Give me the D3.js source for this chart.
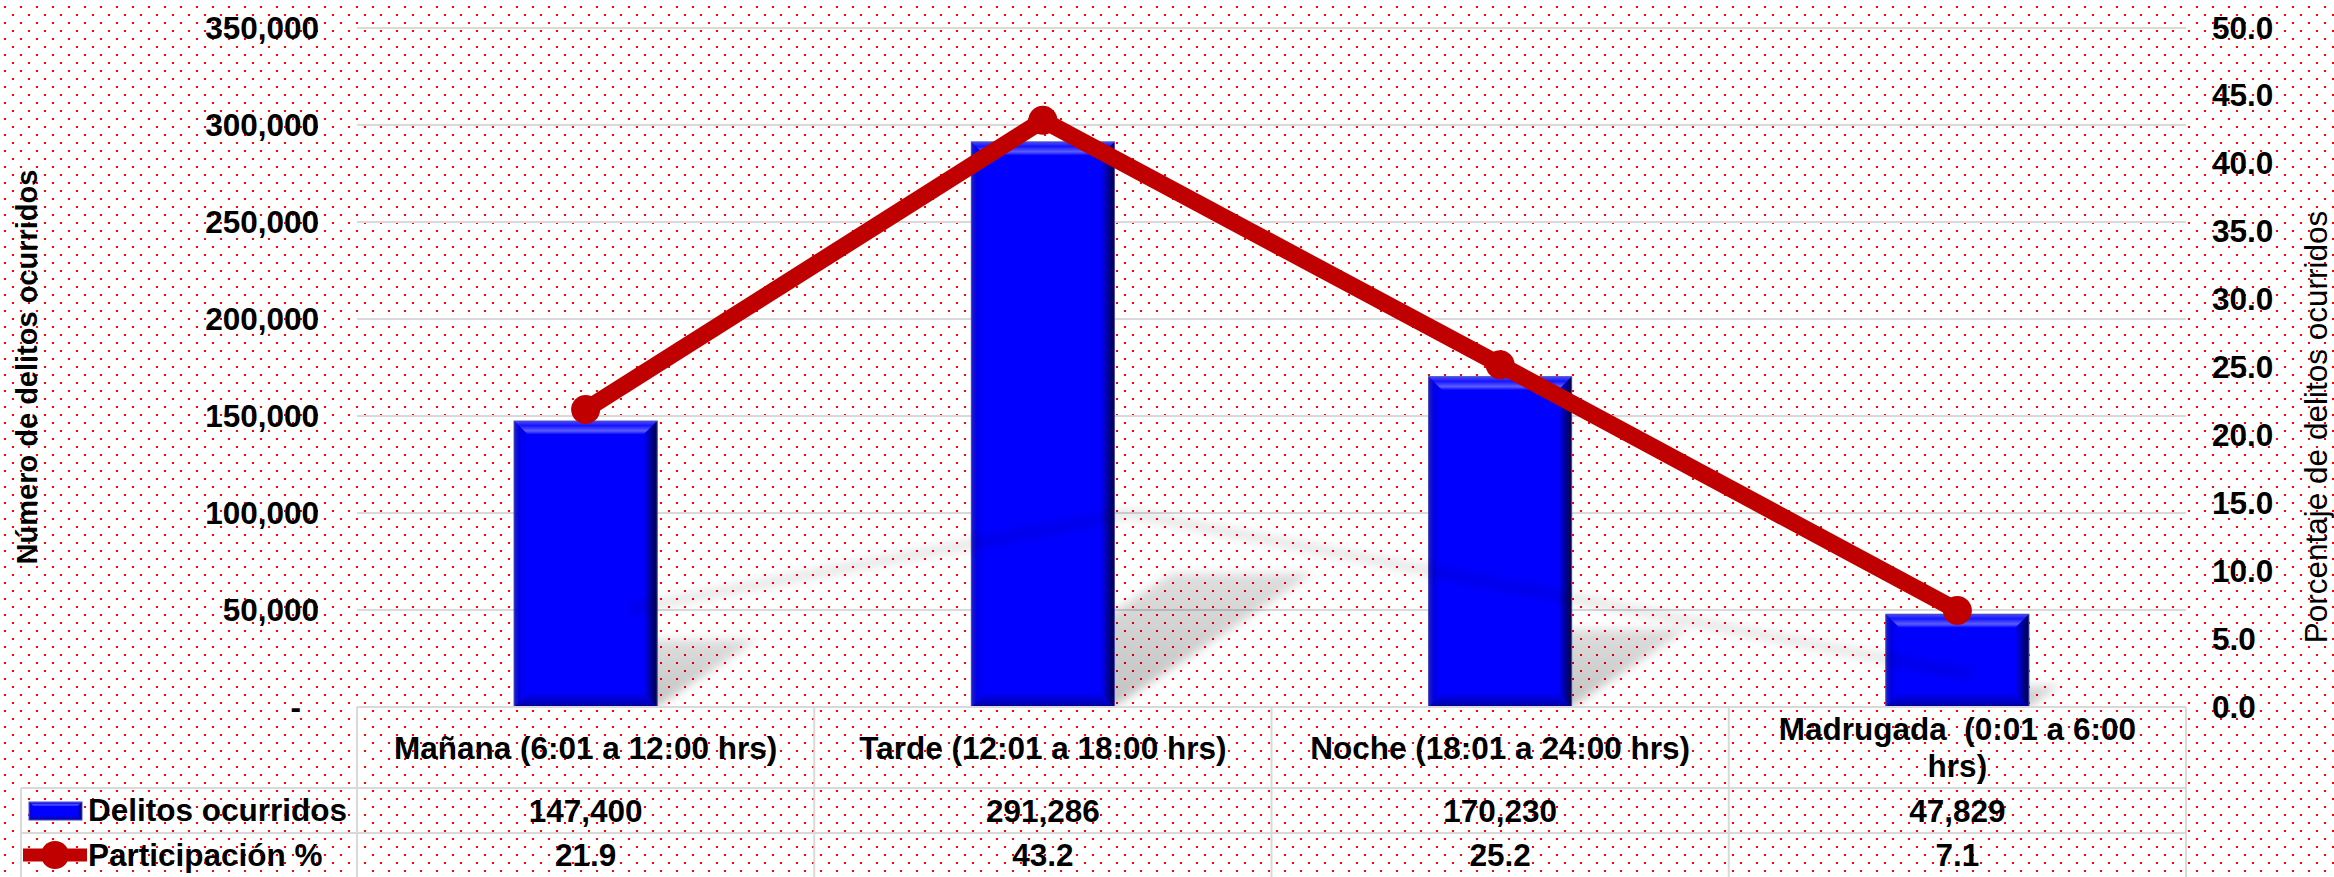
<!DOCTYPE html>
<html>
<head>
<meta charset="utf-8">
<title>Delitos ocurridos por horario</title>
<script src="https://cdn.jsdelivr.net/npm/d3@7"></script>
<style>
  body { margin: 0; background: #fff; overflow: hidden; }
  svg { display: block; font-family: "Liberation Sans", Arial, sans-serif; }
  text { white-space: pre; }
</style>
</head>
<body>
<svg id="chart" width="2334" height="877"></svg>
<script>
// data
var categories = ["Mañana (6:01 a 12:00 hrs)", "Tarde (12:01 a 18:00 hrs)",
                  "Noche (18:01 a 24:00 hrs)", "Madrugada  (0:01 a 6:00 hrs)"];
var delitos = [147400, 291286, 170230, 47829];
var participacion = [21.9, 43.2, 25.2, 7.1];
var seriesNames = ["Delitos ocurridos", "Participación %"];
var leftTicks = [0, 50000, 100000, 150000, 200000, 250000, 300000, 350000];
var rightTicks = [0, 5, 10, 15, 20, 25, 30, 35, 40, 45, 50];
var leftTitle = "Número de delitos ocurridos";
var rightTitle = "Porcentaje de delitos ocurridos";

var W = 2334, H = 877;
var plotL = 357, plotR = 2186, plotT = 28, base = 707;
var rowA = 788, rowB = 833;
var grid = "#d9d9d9", lineRed = "#c00000";
var fs = 31.5;

var svg = d3.select("#chart");
var defs = svg.append("defs");

// red dotted background
var pat = defs.append("pattern").attr("id", "dots")
    .attr("patternUnits", "userSpaceOnUse").attr("width", 16).attr("height", 16);
pat.append("rect").attr("x", 4).attr("y", 6).attr("width", 2).attr("height", 2).attr("fill", "#ff0000");
pat.append("rect").attr("x", 12).attr("y", 14).attr("width", 2).attr("height", 2).attr("fill", "#ff0000");
svg.append("rect").attr("width", W).attr("height", H).attr("fill", "#fff");
svg.append("rect").attr("width", W).attr("height", H).attr("fill", "url(#dots)");

// gradients for the bevelled bars
function grad(id, x2, y2, stops) {
  var g = defs.append("linearGradient").attr("id", id)
      .attr("x1", 0).attr("y1", 0).attr("x2", x2).attr("y2", y2);
  stops.forEach(function(s) {
    g.append("stop").attr("offset", s[0]).attr("stop-color", s[1])
     .attr("stop-opacity", s[2] === undefined ? 1 : s[2]);
  });
}
grad("bvTop", 0, 1, [[0, "#4a4aff"], [0.35, "#1414ff"], [0.75, "#5c5cff"], [1, "#1010ff"]]);
grad("bvBot", 0, 1, [[0, "#0000f0"], [0.6, "#0000c8"], [1, "#00008a"]]);
grad("bvRight", 1, 0, [[0, "#0000f5"], [0.5, "#0000a0"], [1, "#000040"]]);
grad("bvLeft", 1, 0, [[0, "#2020c0"], [0.4, "#0000e6"], [1, "#0000ff"]]);
grad("shadowGrad", 0, 1, [[0, "#000", 0.13], [1, "#000", 0.24]]);

defs.append("filter").attr("id", "blur").attr("x", "-20%").attr("y", "-20%")
    .attr("width", "140%").attr("height", "140%")
  .append("feGaussianBlur").attr("stdDeviation", 5);
defs.append("filter").attr("id", "blur2").attr("x", "-10%").attr("y", "-50%")
    .attr("width", "120%").attr("height", "200%")
  .append("feGaussianBlur").attr("stdDeviation", 5);
defs.append("clipPath").attr("id", "plotClip")
  .append("rect").attr("x", plotL).attr("y", 0).attr("width", plotR - plotL).attr("height", base);

// scales
var x = d3.scaleBand().domain(categories).range([plotL, plotR]).padding(0);
var y = d3.scaleLinear().domain([0, 350000]).range([base, plotT]);
var yR = d3.scaleLinear().domain([0, 50]).range([base, plotT]);
var barW = x.bandwidth() * 0.313;
function cx(c) { return x(c) + x.bandwidth() / 2; }

// gridlines
svg.append("g").selectAll("line")
  .data(leftTicks.filter(function(d) { return d > 0; }))
  .enter().append("line")
    .attr("x1", plotL).attr("x2", plotR)
    .attr("y1", function(d) { return y(d); }).attr("y2", function(d) { return y(d); })
    .attr("stroke", grid).attr("stroke-width", 2);

// left axis
var fmtLeft = d3.format(",");
var axL = svg.append("g").attr("transform", "translate(325,0)")
  .call(d3.axisLeft(y).tickValues(leftTicks).tickSize(0).tickPadding(6)
    .tickFormat(function(d) { return d === 0 ? "-" : fmtLeft(d); }));
axL.select(".domain").remove();
axL.selectAll("text").attr("font-size", fs).attr("font-weight", "bold")
   .attr("font-family", "Liberation Sans, Arial, sans-serif").attr("fill", "#000")
   .attr("dx", function(d) { return d === 0 ? -18 : 0; });

// right axis
var axR = svg.append("g").attr("transform", "translate(2206,0)")
  .call(d3.axisRight(yR).tickValues(rightTicks).tickSize(0).tickPadding(6)
    .tickFormat(d3.format(".1f")));
axR.select(".domain").remove();
axR.selectAll("text").attr("font-size", fs).attr("font-weight", "bold")
   .attr("font-family", "Liberation Sans, Arial, sans-serif").attr("fill", "#000");

// axis titles
svg.append("text").attr("transform", "translate(37,367) rotate(-90)")
  .attr("text-anchor", "middle").attr("font-size", 29).attr("font-weight", "bold")
  .text(leftTitle);
svg.append("text").attr("transform", "translate(2327,427) rotate(-90)")
  .attr("text-anchor", "middle").attr("font-size", 31.5)
  .text(rightTitle);

// perspective shadows of the bars
var kS = 0.237, aS = 0.354;
svg.append("g").attr("clip-path", "url(#plotClip)")
  .selectAll("polygon").data(categories).enter().append("polygon")
    .attr("points", function(c, i) {
      var x0 = cx(c) - barW / 2, x1 = x0 + barW, h = base - y(delitos[i]);
      return [[x0, base], [x1, base], [x1 + aS * h, base - kS * h], [x0 + aS * h, base - kS * h]].join(" ");
    })
    .attr("fill", "url(#shadowGrad)")
    .attr("filter", "url(#blur)");

// bars with bevel
function bevelBar(g, bx, by, bw, bh, b) {
  g.append("rect").attr("x", bx).attr("y", by).attr("width", bw).attr("height", bh).attr("fill", "#0000ff");
  var pts = {
    bvTop: [[bx, by], [bx + bw, by], [bx + bw - b, by + b], [bx + b, by + b]],
    bvBot: [[bx, by + bh], [bx + bw, by + bh], [bx + bw - b, by + bh - b], [bx + b, by + bh - b]],
    bvLeft: [[bx, by], [bx + b, by + b], [bx + b, by + bh - b], [bx, by + bh]],
    bvRight: [[bx + bw, by], [bx + bw - b, by + b], [bx + bw - b, by + bh - b], [bx + bw, by + bh]]
  };
  Object.keys(pts).forEach(function(k) {
    g.append("polygon").attr("points", pts[k].join(" ")).attr("fill", "url(#" + k + ")");
  });
  g.append("rect").attr("x", bx).attr("y", by).attr("width", bw).attr("height", bh)
    .attr("fill", "none").attr("stroke", "#4b4bb8").attr("stroke-width", 1);
}
var bars = svg.append("g");
categories.forEach(function(c, i) {
  bevelBar(bars.append("g"), cx(c) - barW / 2, y(delitos[i]), barW, base - y(delitos[i]), 13);
});

// faint floor shadow of the line
var kL = 0.33, aL = 0.15;
var shadowLine = d3.line()
  .x(function(d, i) { return cx(categories[i]) + aL * (base - yR(d)); })
  .y(function(d) { return base - kL * (base - yR(d)); });
svg.append("path").datum(participacion).attr("d", shadowLine)
  .attr("fill", "none").attr("stroke", "#000").attr("stroke-width", 11)
  .attr("opacity", 0.09).attr("filter", "url(#blur2)").attr("clip-path", "url(#plotClip)");

// participation line
var line = d3.line()
  .x(function(d, i) { return cx(categories[i]); })
  .y(function(d) { return yR(d); });
svg.append("path").datum(participacion).attr("d", line)
  .attr("fill", "none").attr("stroke", lineRed).attr("stroke-width", 17)
  .attr("stroke-linejoin", "round");
svg.append("g").selectAll("circle").data(participacion).enter().append("circle")
  .attr("cx", function(d, i) { return cx(categories[i]); })
  .attr("cy", function(d) { return yR(d); })
  .attr("r", 14.5).attr("fill", lineRed);

// data table
var tbl = svg.append("g").attr("stroke", grid).attr("stroke-width", 2);
tbl.append("line").attr("x1", plotL).attr("x2", plotR).attr("y1", base).attr("y2", base);
tbl.append("line").attr("x1", 21).attr("x2", plotR).attr("y1", rowA).attr("y2", rowA);
tbl.append("line").attr("x1", 21).attr("x2", plotR).attr("y1", rowB).attr("y2", rowB);
tbl.append("line").attr("x1", 21).attr("x2", 21).attr("y1", rowA).attr("y2", H + 2);
tbl.selectAll("line.v").data(categories.concat(["end"])).enter().append("line")
  .attr("x1", function(c) { return c === "end" ? plotR : x(c); })
  .attr("x2", function(c) { return c === "end" ? plotR : x(c); })
  .attr("y1", base).attr("y2", H + 2);

// category header with wrapping
var maxW = 405, lh = 37, headMid = (base + rowA) / 2;
var heads = svg.append("g").selectAll("text").data(categories).enter().append("text")
  .attr("text-anchor", "middle").attr("font-size", fs).attr("font-weight", "bold");
heads.each(function(c) {
  var t = d3.select(this), words = c.split(" "), lines = [], cur = "";
  words.forEach(function(w) {
    var test = cur === "" ? w : cur + " " + w;
    t.text(test);
    if (this.getComputedTextLength() > maxW && cur !== "") { lines.push(cur); cur = w; }
    else cur = test;
  }, this);
  lines.push(cur);
  t.text(null);
  var y0 = headMid - (lines.length - 1) * lh / 2 + 11;
  lines.forEach(function(l, k) {
    t.append("tspan").attr("x", cx(c)).attr("y", y0 + k * lh).text(l.trim());
  });
});

var fmtVal = d3.format(","), fmtPct = d3.format(".1f");
svg.append("g").selectAll("text").data(delitos).enter().append("text")
  .attr("x", function(d, i) { return cx(categories[i]); }).attr("y", (rowA + rowB) / 2 + 11)
  .attr("text-anchor", "middle").attr("font-size", fs).attr("font-weight", "bold")
  .text(function(d) { return fmtVal(d); });
svg.append("g").selectAll("text").data(participacion).enter().append("text")
  .attr("x", function(d, i) { return cx(categories[i]); }).attr("y", 866)
  .attr("text-anchor", "middle").attr("font-size", fs).attr("font-weight", "bold")
  .text(function(d) { return fmtPct(d); });

// legend keys in the table
bevelBar(svg.append("g"), 29, 802, 53, 18, 4);
svg.append("line").attr("x1", 23).attr("x2", 87).attr("y1", 855).attr("y2", 855)
  .attr("stroke", lineRed).attr("stroke-width", 13);
svg.append("circle").attr("cx", 55).attr("cy", 855).attr("r", 14).attr("fill", lineRed);
svg.append("g").selectAll("text").data(seriesNames).enter().append("text")
  .attr("x", 88).attr("y", function(d, i) { return i === 0 ? 821 : 866; })
  .attr("font-size", fs).attr("font-weight", "bold")
  .text(function(d) { return d; });
</script>
</body>
</html>
